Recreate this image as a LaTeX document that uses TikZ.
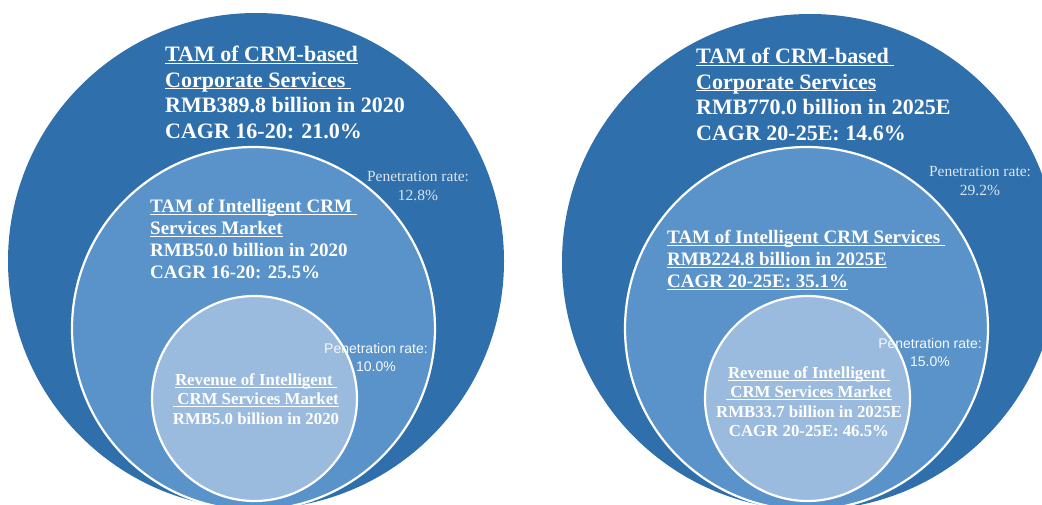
\documentclass[tikz,border=0pt]{standalone}
\usepackage{fontspec}
\setmainfont{Liberation Serif}
\newfontfamily\penfont{Liberation Sans}
\definecolor{crmdark}{HTML}{2F6FAB}
\definecolor{crmmid}{HTML}{5A93C9}
\definecolor{crmlight}{HTML}{9BBBDE}
\definecolor{pentext}{HTML}{DCE5F0}
\newcommand\ul[1]{\underline{\raisebox{0pt}[\height][0pt]{#1}}}
\tikzset{
	ring/.style = {
		circle,
		inner sep=0pt,
		draw=white,
		line width=2.2pt
	},
	ring_big/.style = {
		ring,
		draw=none,
		fill=crmdark,
		minimum size=496pt
	},
	ring_mid/.style = {
		ring,
		fill=crmmid,
		minimum size=363pt
	},
	ring_small/.style = {
		ring,
		fill=crmlight,
		minimum size=205pt
	},
	label_big/.style = {
		align=left,
		inner sep=0pt,
		text=white,
		anchor=north west,
		font=\fontsize{22}{25.5}\selectfont\bfseries
	},
	label_mid/.style = {
		label_big,
		font=\fontsize{19}{22}\selectfont\bfseries
	},
	label_small/.style = {
		label_big,
		align=center,
		anchor=north,
		font=\fontsize{16.8}{19.3}\selectfont\bfseries
	},
	rate_serif/.style = {
		align=center,
		inner sep=0pt,
		anchor=north,
		text=pentext,
		font=\fontsize{15.5}{18.5}\selectfont
	},
	rate_sans/.style = {
		rate_serif,
		text=white!94!crmmid,
		font=\fontsize{14}{18}\selectfont\penfont
	},
}
\begin{document}
\begin{tikzpicture}[x=1pt,y=-1pt]
\useasboundingbox (0,0) rectangle (1042,505);
\clip (0,0) rectangle (1042,505);
% 2020
\node [ring_big] (big_a) at (256,261) {};
\node [ring_mid] (mid_a) at (253.5,328.5) {};
\node [ring_small] (small_a) at (254.5,398.5) {};
\node [label_big] (tam_a) at (165,46) {\ul{TAM of CRM-based}\\\ul{Corporate Services\ }\\RMB389.8 billion in 2020\\CAGR 16-20: 21.0\%};
\node [label_mid] (icrm_a) at (150,199) {\ul{TAM of Intelligent CRM\ }\\\ul{Services Market}\\RMB50.0 billion in 2020\\CAGR 16-20: 25.5\%};
\node [label_small] (rev_a) at (256,373.5) {\ul{Revenue of Intelligent\ }\\\ul{\ CRM Services Market}\\RMB5.0 billion in 2020};
\node [rate_serif] (pen_a) at (418,171.5) {Penetration rate:\\12.8\%};
\node [rate_sans] (pen_b) at (376,343) {Penetration rate:\\10.0\%};
% 2025E
\node [ring_big] (big_b) at (810,262) {};
\node [ring_mid] (mid_b) at (806.5,328.5) {};
\node [ring_small] (small_b) at (807.5,398.5) {};
\node [label_big] (tam_b) at (696,48) {\ul{TAM of CRM-based\ }\\\ul{Corporate Services}\\RMB770.0 billion in 2025E\\CAGR 20-25E: 14.6\%};
\node [label_mid] (icrm_b) at (667,230) {\ul{TAM of Intelligent CRM Services\ }\\\ul{RMB224.8 billion in 2025E}\\\ul{CAGR 20-25E: 35.1\%}};
\node [label_small] (rev_b) at (809,366.5) {\ul{Revenue of Intelligent\ }\\\ul{\ CRM Services Market}\\RMB33.7 billion in 2025E\\CAGR 20-25E: 46.5\%};
\node [rate_serif] (pen_c) at (980,166.5) {Penetration rate:\\29.2\%};
\node [rate_sans] (pen_d) at (930,338) {Penetration rate:\\15.0\%};
\end{tikzpicture}
\end{document}
